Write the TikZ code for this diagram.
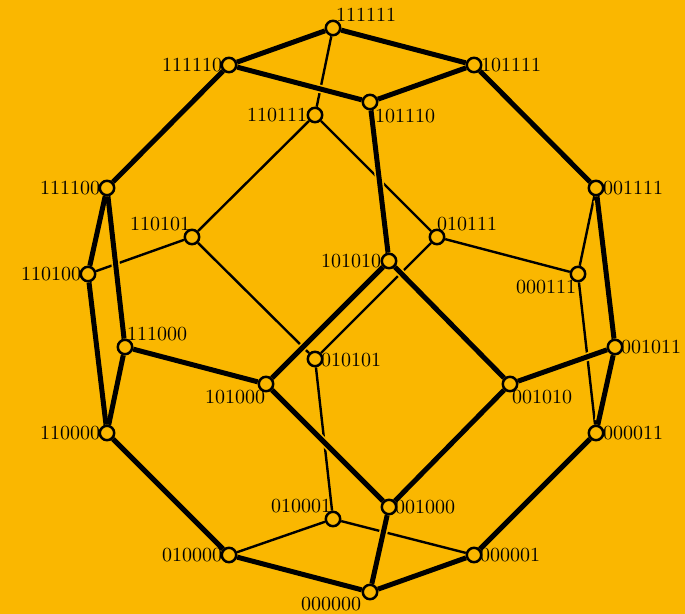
\documentclass[tikz,border=0pt]{standalone}
\usepackage{amsmath}
\usepackage{amssymb}
\usepackage{tikz}
\usetikzlibrary{backgrounds}
\definecolor{bgorange}{HTML}{FAB700}
\tikzset{
  vtx/.style={circle,draw=black,fill=bgorange,line width=1.25pt,inner sep=0pt,minimum size=7.2pt},
  lbl/.style={inner sep=0pt,text=black},
  thinedge/.style={line width=1.2pt},
  thickedge/.style={line width=2.5pt},
  haloedge/.style={line width=4.2pt,draw=bgorange,shorten >=2pt,shorten <=2pt}
}
\def\thickedges{n111111/n111110,n111111/n101111,n111110/n101110,n101111/n101110,n111110/n111100,
  n101111/n001111,n101110/n101010,n111100/n110100,n111100/n111000,n110100/n110000,n111000/n110000,
  n111000/n101000,n101010/n101000,n101010/n001010,n101000/n001000,n001010/n001000,n001111/n001011,
  n001011/n000011,n001011/n001010,n110000/n010000,n000011/n000001,n010000/n000000,n000001/n000000,
  n001000/n000000}
\begin{document}
\begin{tikzpicture}[x=0.5pt,y=-0.5pt]
  \node[vtx] (n111111) at (333,28) {};
  \node[vtx] (n111110) at (229,65) {};
  \node[vtx] (n101111) at (474,65) {};
  \node[vtx] (n101110) at (370,102) {};
  \node[vtx] (n110111) at (315,115) {};
  \node[vtx] (n111100) at (107,188) {};
  \node[vtx] (n001111) at (596,188) {};
  \node[vtx] (n110101) at (192,237) {};
  \node[vtx] (n010111) at (437,237) {};
  \node[vtx] (n101010) at (389,261) {};
  \node[vtx] (n110100) at (88,274) {};
  \node[vtx] (n000111) at (578,274) {};
  \node[vtx] (n111000) at (125,347) {};
  \node[vtx] (n001011) at (615,347) {};
  \node[vtx] (n010101) at (315,359) {};
  \node[vtx] (n101000) at (266,384) {};
  \node[vtx] (n001010) at (510,384) {};
  \node[vtx] (n110000) at (107,433) {};
  \node[vtx] (n000011) at (596,433) {};
  \node[vtx] (n001000) at (389,507) {};
  \node[vtx] (n010001) at (333,519) {};
  \node[vtx] (n010000) at (229,555) {};
  \node[vtx] (n000001) at (474,555) {};
  \node[vtx] (n000000) at (370,592) {};
  \node[lbl] (t111111) at (366,15) {111111};
  \node[lbl] (t111110) at (192,65) {111110};
  \node[lbl] (t101111) at (511,65) {101111};
  \node[lbl] (t101110) at (405,116) {101110};
  \node[lbl] (t110111) at (277,115) {110111};
  \node[lbl] (t111100) at (70,188) {111100};
  \node[lbl] (t001111) at (633,188) {001111};
  \node[lbl] (t110101) at (160,224) {110101};
  \node[lbl] (t010111) at (467,224) {010111};
  \node[lbl] (t101010) at (351,261) {101010};
  \node[lbl] (t110100) at (51,274) {110100};
  \node[lbl] (t000111) at (546,287) {000111};
  \node[lbl] (t111000) at (157,334) {111000};
  \node[lbl] (t001011) at (651,347) {001011};
  \node[lbl] (t010101) at (351,360) {010101};
  \node[lbl] (t101000) at (235,397) {101000};
  \node[lbl] (t001010) at (542,397) {001010};
  \node[lbl] (t110000) at (70,433) {110000};
  \node[lbl] (t000011) at (633,433) {000011};
  \node[lbl] (t001000) at (425,507) {001000};
  \node[lbl] (t010001) at (301,506) {010001};
  \node[lbl] (t010000) at (192,555) {010000};
  \node[lbl] (t000001) at (510,555) {000001};
  \node[lbl] (t000000) at (331,604) {000000};
  \begin{scope}[on background layer]
    \fill[bgorange] (0,0) rectangle (685,614);
    \draw[thinedge] (n111111)--(n110111);
    \draw[thinedge] (n110111)--(n110101);
    \draw[thinedge] (n110111)--(n010111);
    \draw[thinedge] (n110101)--(n110100);
    \draw[thinedge] (n110101)--(n010101);
    \draw[thinedge] (n010111)--(n010101);
    \draw[thinedge] (n010111)--(n000111);
    \draw[thinedge] (n000111)--(n001111);
    \draw[thinedge] (n000111)--(n000011);
    \draw[thinedge] (n010101)--(n010001);
    \draw[thinedge] (n010001)--(n010000);
    \draw[thinedge] (n010001)--(n000001);
    \foreach \a/\b in \thickedges \draw[haloedge] (\a)--(\b);
    \foreach \a/\b in \thickedges \draw[thickedge] (\a)--(\b);
  \end{scope}
\end{tikzpicture}
\end{document}
